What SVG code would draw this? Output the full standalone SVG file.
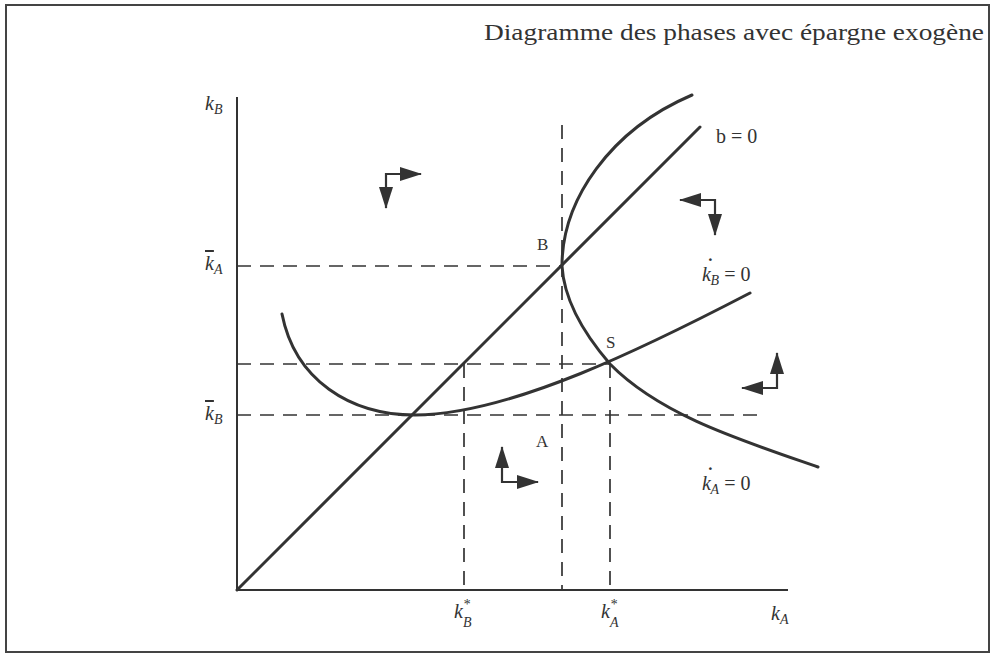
<svg xmlns="http://www.w3.org/2000/svg" width="995" height="656" viewBox="0 0 995 656">
<style>
.frame{fill:none;stroke:#444;stroke-width:2}
.axis{fill:none;stroke:#333;stroke-width:2}
.curve{fill:none;stroke:#333;stroke-width:3;stroke-linecap:round}
.dash{fill:none;stroke:#333;stroke-width:1.7;stroke-dasharray:14 9}
.arr{fill:none;stroke:#333;stroke-width:2.2;marker-end:url(#head)}
.lbl{font-family:"Liberation Serif","DejaVu Serif",serif;font-size:20px;fill:#333}
.pt{font-family:"Liberation Serif","DejaVu Serif",serif;font-size:17px;fill:#333}
.it{font-style:italic}
.sub{font-size:14px}
.bar{text-decoration:overline}
.dot{font-size:26px;font-style:normal}
.title{font-family:"Liberation Serif","DejaVu Serif",serif;font-size:24px;fill:#333}
</style>
<defs>
<marker id="head" markerUnits="userSpaceOnUse" markerWidth="22" markerHeight="14" refX="21" refY="7" orient="auto">
<path d="M0,0 L22,7 L0,14 Z" fill="#333"/>
</marker>
</defs>
<rect class="frame" x="6" y="5" width="983" height="647"/>
<text class="title" x="984" y="40" text-anchor="end" textLength="500" lengthAdjust="spacingAndGlyphs">Diagramme des phases avec épargne exogène</text>
<g id="axes">
<line class="axis" x1="237" y1="97" x2="237" y2="590"/>
<line class="axis" x1="237" y1="590" x2="788" y2="590"/>
</g>
<g id="connectors">
<line class="dash" x1="237" y1="266" x2="562" y2="266"/>
<line class="dash" x1="562" y1="125" x2="562" y2="590"/>
<line class="dash" x1="237" y1="415" x2="760" y2="415"/>
<line class="dash" x1="237" y1="364" x2="610" y2="364"/>
<line class="dash" x1="464" y1="364" x2="464" y2="590"/>
<line class="dash" x1="610" y1="364" x2="610" y2="590"/>
</g>
<g id="b0">
<line class="curve" x1="237" y1="590" x2="700" y2="127"/>
</g>
<g id="kB0">
<path class="curve" d="M282,314 C295,380 350,415 415,415 C510,415 650,345 750,293"/>
</g>
<g id="kA0">
<path class="curve" d="M692,95 C610,130 562,200 562,266 C564,300 585,335 610,364 C660,415 740,440 818,467"/>
</g>
<g id="arrows">
<line class="arr" x1="386" y1="173" x2="386" y2="208"/>
<line class="arr" x1="385" y1="174" x2="421" y2="174"/>
<line class="arr" x1="715" y1="200" x2="680" y2="200"/>
<line class="arr" x1="715" y1="199" x2="715" y2="235"/>
<line class="arr" x1="777" y1="389" x2="777" y2="353"/>
<line class="arr" x1="778" y1="388" x2="742" y2="388"/>
<line class="arr" x1="502" y1="483" x2="502" y2="447"/>
<line class="arr" x1="501" y1="482" x2="538" y2="482"/>
</g>
<g id="labels">
<text class="lbl it" x="205" y="110">k<tspan class="sub" dy="4">B</tspan></text>
<text class="lbl it" x="205" y="270"><tspan class="bar">k</tspan><tspan class="sub" dy="4">A</tspan></text>
<text class="lbl it" x="205" y="420"><tspan class="bar">k</tspan><tspan class="sub" dy="4">B</tspan></text>
<text class="pt" x="537" y="250">B</text>
<text class="pt" x="606" y="348">S</text>
<text class="pt" x="536" y="447">A</text>
<text class="lbl" x="716" y="143">b = 0</text>
<text class="lbl" x="702" y="281"><tspan class="it">k</tspan><tspan class="dot" dx="-5" dy="-6">˙</tspan><tspan class="it sub" dx="-4" dy="10">B</tspan><tspan dy="-4"> = 0</tspan></text>
<text class="lbl" x="702" y="490"><tspan class="it">k</tspan><tspan class="dot" dx="-5" dy="-6">˙</tspan><tspan class="it sub" dx="-4" dy="10">A</tspan><tspan dy="-4"> = 0</tspan></text>
<text class="lbl it" x="454" y="618">k<tspan class="sub" dy="-9">*</tspan><tspan class="sub" dx="-7" dy="18">B</tspan></text>
<text class="lbl it" x="601" y="618">k<tspan class="sub" dy="-9">*</tspan><tspan class="sub" dx="-7" dy="18">A</tspan></text>
<text class="lbl it" x="771" y="620">k<tspan class="sub" dy="4">A</tspan></text>
</g>
</svg>
